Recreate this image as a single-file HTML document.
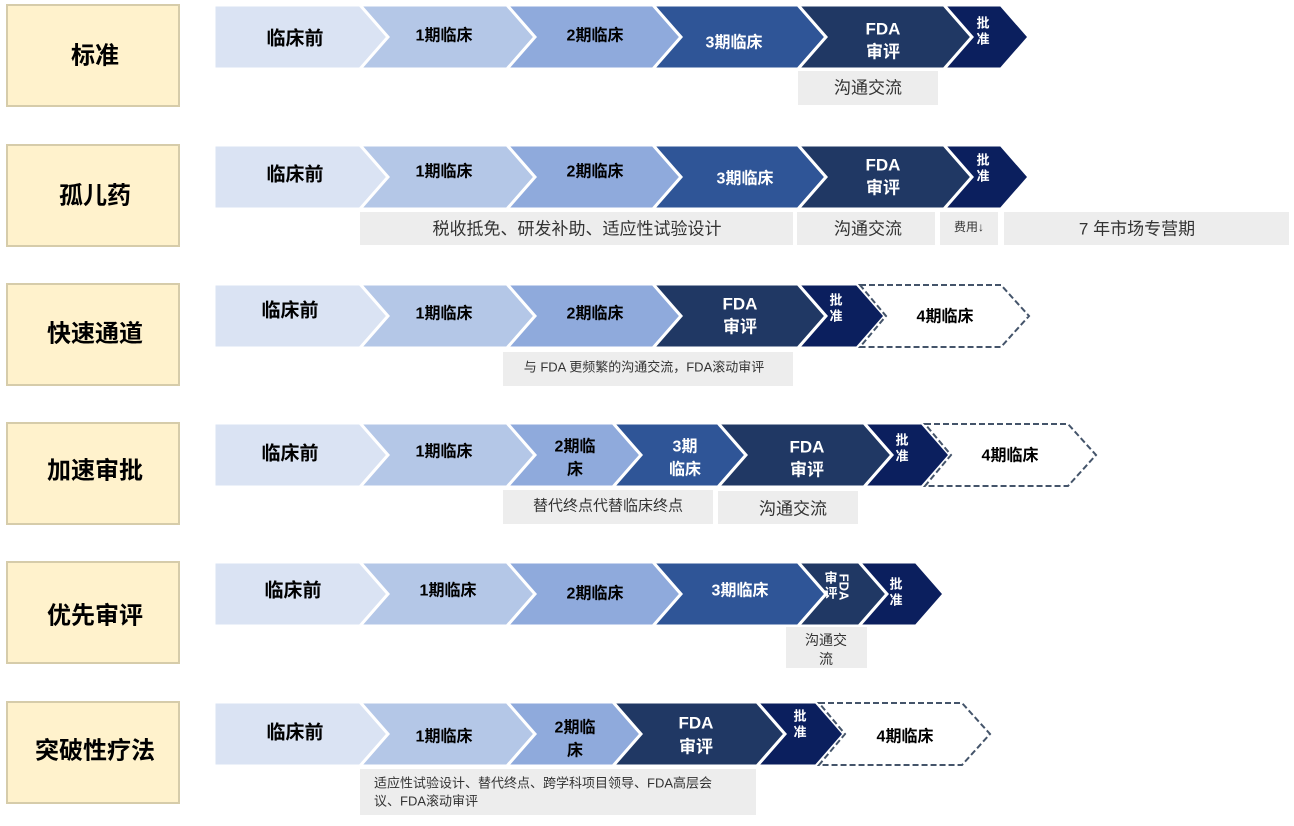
<!DOCTYPE html>
<html><head><meta charset="utf-8"><style>
html,body{margin:0;padding:0;background:#fff;}
svg{display:block;}
text{font-family:"Liberation Sans","Noto Sans CJK SC",sans-serif;dominant-baseline:central;text-anchor:middle;}
.b{font-weight:bold;}
.lb{fill:#fff2cc;stroke:#d6ccaa;stroke-width:2;}
.g{fill:#ededed;}
.c0{fill:#dae3f3;stroke:#fff;stroke-width:3;}
.c1{fill:#b4c7e7;stroke:#fff;stroke-width:3;}
.c2{fill:#8faadc;stroke:#fff;stroke-width:3;}
.c3{fill:#2f5597;stroke:#fff;stroke-width:3;}
.c4{fill:#203864;stroke:#fff;stroke-width:3;}
.c5{fill:#0b1f5e;stroke:#fff;stroke-width:3;}
.dash{fill:#fff;stroke:#44546a;stroke-width:2;stroke-dasharray:6,3;}
.w{fill:#fff;}
</style></head><body>
<svg width="1294" height="826" viewBox="0 0 1294 826" xmlns="http://www.w3.org/2000/svg">
<!-- Row 1 -->
<g transform="translate(0,5)">
<rect class="lb" x="7" y="0" width="172" height="101"/><text class="b" x="95" y="51" font-size="24">标准</text>
<polygon class="c0" points="214,0 360,0 388,32 360,64 214,64"/>
<polygon class="c1" points="360,0 507,0 535,32 507,64 360,64 388,32"/>
<polygon class="c2" points="507,0 653,0 681,32 653,64 507,64 535,32"/>
<polygon class="c3" points="653,0 798,0 826,32 798,64 653,64 681,32"/>
<polygon class="c4" points="798,0 944,0 972,32 944,64 798,64 826,32"/>
<polygon class="c5" points="944,0 1001,0 1029,32 1001,64 944,64 972,32"/>
<text class="b" x="295" y="34" font-size="19">临床前</text>
<text class="b" x="444" y="31" font-size="16">1期临床</text>
<text class="b" x="595" y="31" font-size="16">2期临床</text>
<text class="b w" x="734" y="38" font-size="16">3期临床</text>
<text class="b w" x="883" y="24" font-size="17">FDA</text>
<text class="b w" x="883" y="47" font-size="17">审评</text>
<text class="b w" x="983" y="18" font-size="13">批</text>
<text class="b w" x="983" y="34" font-size="13">准</text>
<rect class="g" x="798" y="66" width="140" height="34"/><text x="868" y="83" font-size="17" fill="#333">沟通交流</text>
</g>
<!-- Row 2 -->
<g transform="translate(0,145)">
<rect class="lb" x="7" y="0" width="172" height="101"/><text class="b" x="95" y="51" font-size="24">孤儿药</text>
<polygon class="c0" points="214,0 360,0 388,32 360,64 214,64"/>
<polygon class="c1" points="360,0 507,0 535,32 507,64 360,64 388,32"/>
<polygon class="c2" points="507,0 653,0 681,32 653,64 507,64 535,32"/>
<polygon class="c3" points="653,0 798,0 826,32 798,64 653,64 681,32"/>
<polygon class="c4" points="798,0 944,0 972,32 944,64 798,64 826,32"/>
<polygon class="c5" points="944,0 1001,0 1029,32 1001,64 944,64 972,32"/>
<text class="b" x="295" y="30" font-size="19">临床前</text>
<text class="b" x="444" y="27" font-size="16">1期临床</text>
<text class="b" x="595" y="27" font-size="16">2期临床</text>
<text class="b w" x="745" y="34" font-size="16">3期临床</text>
<text class="b w" x="883" y="20" font-size="17">FDA</text>
<text class="b w" x="883" y="43" font-size="17">审评</text>
<text class="b w" x="983" y="15" font-size="13">批</text>
<text class="b w" x="983" y="31" font-size="13">准</text>
<rect class="g" x="360" y="67" width="433" height="33"/><text x="577" y="84" font-size="17" fill="#333">税收抵免、研发补助、适应性试验设计</text>
<rect class="g" x="797" y="67" width="138" height="33"/><text x="868" y="84" font-size="17" fill="#333">沟通交流</text>
<rect class="g" x="940" y="67" width="58" height="33"/><text x="969" y="82" font-size="12" fill="#333">费用↓</text>
<rect class="g" x="1004" y="67" width="285" height="33"/><text x="1137" y="84" font-size="17" fill="#333">7 年市场专营期</text>
</g>
<!-- Row 3 -->
<g transform="translate(0,284)">
<rect class="lb" x="7" y="0" width="172" height="101"/><text class="b" x="95" y="50" font-size="24">快速通道</text>
<polygon class="c0" points="214,0 360,0 388,32 360,64 214,64"/>
<polygon class="c1" points="360,0 507,0 535,32 507,64 360,64 388,32"/>
<polygon class="c2" points="507,0 653,0 681,32 653,64 507,64 535,32"/>
<polygon class="c4" points="653,0 798,0 826,32 798,64 653,64 681,32"/>
<polygon class="c5" points="798,0 857,0 885,32 857,64 798,64 826,32"/>
<polygon class="dash" points="860,1 1001,1 1029,32 1001,63 860,63 886,32"/>
<text class="b" x="290" y="27" font-size="19">临床前</text>
<text class="b" x="444" y="30" font-size="16">1期临床</text>
<text class="b" x="595" y="30" font-size="16">2期临床</text>
<text class="b w" x="740" y="20" font-size="17">FDA</text>
<text class="b w" x="740" y="43" font-size="17">审评</text>
<text class="b w" x="836" y="16" font-size="13">批</text>
<text class="b w" x="836" y="32" font-size="13">准</text>
<text class="b" x="945" y="33" font-size="16">4期临床</text>
<rect class="g" x="503" y="68" width="290" height="34"/><text x="644" y="83" font-size="13" fill="#333">与 FDA 更频繁的沟通交流，FDA滚动审评</text>
</g>
<!-- Row 4 -->
<g transform="translate(0,423)">
<rect class="lb" x="7" y="0" width="172" height="101"/><text class="b" x="95" y="48" font-size="24">加速审批</text>
<polygon class="c0" points="214,0 360,0 388,32 360,64 214,64"/>
<polygon class="c1" points="360,0 507,0 535,32 507,64 360,64 388,32"/>
<polygon class="c2" points="507,0 613,0 641,32 613,64 507,64 535,32"/>
<polygon class="c3" points="613,0 718,0 746,32 718,64 613,64 641,32"/>
<polygon class="c4" points="718,0 864,0 892,32 864,64 718,64 746,32"/>
<polygon class="c5" points="864,0 922,0 950,32 922,64 864,64 892,32"/>
<polygon class="dash" points="925,1 1068,1 1096,32 1068,63 925,63 951,32"/>
<text class="b" x="290" y="31" font-size="19">临床前</text>
<text class="b" x="444" y="29" font-size="16">1期临床</text>
<text class="b" x="575" y="24" font-size="16">2期临</text>
<text class="b" x="575" y="47" font-size="16">床</text>
<text class="b w" x="685" y="24" font-size="16">3期</text>
<text class="b w" x="685" y="47" font-size="16">临床</text>
<text class="b w" x="807" y="24" font-size="17">FDA</text>
<text class="b w" x="807" y="47" font-size="17">审评</text>
<text class="b w" x="902" y="17" font-size="13">批</text>
<text class="b w" x="902" y="33" font-size="13">准</text>
<text class="b" x="1010" y="33" font-size="16">4期临床</text>
<rect class="g" x="503" y="67" width="210" height="34"/><text x="608" y="83" font-size="15" fill="#333">替代终点代替临床终点</text>
<rect class="g" x="718" y="68" width="140" height="33"/><text x="793" y="86" font-size="17" fill="#333">沟通交流</text>
</g>
<!-- Row 5 -->
<g transform="translate(0,562)">
<rect class="lb" x="7" y="0" width="172" height="101"/><text class="b" x="95" y="54" font-size="24">优先审评</text>
<polygon class="c0" points="214,0 360,0 388,32 360,64 214,64"/>
<polygon class="c1" points="360,0 507,0 535,32 507,64 360,64 388,32"/>
<polygon class="c2" points="507,0 653,0 681,32 653,64 507,64 535,32"/>
<polygon class="c3" points="653,0 798,0 826,32 798,64 653,64 681,32"/>
<polygon class="c4" points="798,0 859,0 887,32 859,64 798,64 826,32"/>
<polygon class="c5" points="859,0 916,0 944,32 916,64 859,64 887,32"/>
<text class="b" x="293" y="29" font-size="19">临床前</text>
<text class="b" x="448" y="29" font-size="16">1期临床</text>
<text class="b" x="595" y="32" font-size="16">2期临床</text>
<text class="b w" x="740" y="29" font-size="16">3期临床</text>
<text class="b w" x="831" y="16" font-size="13">审</text>
<text class="b w" x="831" y="31" font-size="13">评</text>
<text class="b w" x="844" y="25" font-size="13" transform="rotate(90 844 25)">FDA</text>
<text class="b w" x="896" y="22" font-size="13">批</text>
<text class="b w" x="896" y="38" font-size="13">准</text>
<rect class="g" x="786" y="65" width="81" height="41"/><text x="826" y="78" font-size="14" fill="#333">沟通交</text><text x="826" y="97" font-size="14" fill="#333">流</text>
</g>
<!-- Row 6 -->
<g transform="translate(0,702)">
<rect class="lb" x="7" y="0" width="172" height="101"/><text class="b" x="95" y="49" font-size="24">突破性疗法</text>
<polygon class="c0" points="214,0 360,0 388,32 360,64 214,64"/>
<polygon class="c1" points="360,0 507,0 535,32 507,64 360,64 388,32"/>
<polygon class="c2" points="507,0 613,0 641,32 613,64 507,64 535,32"/>
<polygon class="c4" points="613,0 757,0 785,32 757,64 613,64 641,32"/>
<polygon class="c5" points="757,0 816,0 844,32 816,64 757,64 785,32"/>
<polygon class="dash" points="819,1 962,1 990,32 962,63 819,63 845,32"/>
<text class="b" x="295" y="31" font-size="19">临床前</text>
<text class="b" x="444" y="35" font-size="16">1期临床</text>
<text class="b" x="575" y="26" font-size="16">2期临</text>
<text class="b" x="575" y="49" font-size="16">床</text>
<text class="b w" x="696" y="21" font-size="17">FDA</text>
<text class="b w" x="696" y="45" font-size="17">审评</text>
<text class="b w" x="800" y="14" font-size="13">批</text>
<text class="b w" x="800" y="30" font-size="13">准</text>
<text class="b" x="905" y="35" font-size="16">4期临床</text>
<rect class="g" x="360" y="67" width="396" height="46"/>
<text x="374" y="81" font-size="13" fill="#333" style="text-anchor:start">适应性试验设计、替代终点、跨学科项目领导、FDA高层会</text>
<text x="374" y="99" font-size="13" fill="#333" style="text-anchor:start">议、FDA滚动审评</text>
</g>
</svg>
</body></html>
